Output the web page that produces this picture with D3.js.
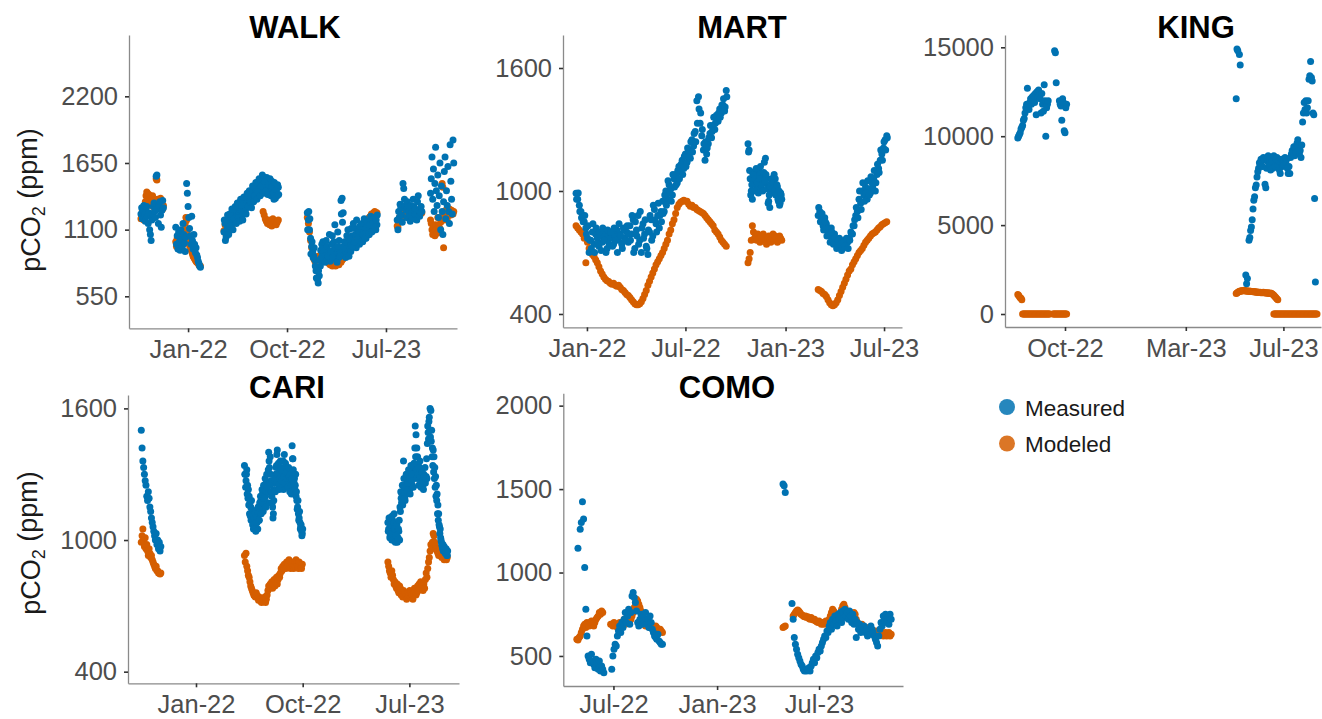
<!DOCTYPE html>
<html>
<head>
<meta charset="utf-8">
<script src="https://cdn.jsdelivr.net/npm/d3@7"></script>
<style>
  body { margin: 0; background: #fff; }
  svg { display: block; }
  text { font-family: "Liberation Sans", Arial, Helvetica, sans-serif; }
</style>
</head>
<body>
<svg id="chart" width="1322" height="719"></svg>
<script>
// ---- categories and legend ----
const sites = ["WALK", "MART", "KING", "CARI", "COMO"];
const seriesNames = ["Measured", "Modeled"];
const seriesColors = ["#0072B2", "#D55E00"];

// ---- axis tick labels ----
const walkYTicks = [550, 1100, 1650, 2200];
const martYTicks = [400, 1000, 1600];
const kingYTicks = [0, 5000, 10000, 15000];
const cariYTicks = [400, 1000, 1600];
const comoYTicks = [500, 1000, 1500, 2000];
const walkXTicks = ["2022-01-01", "2022-10-01", "2023-07-01"];
const martXTicks = ["2022-01-01", "2022-07-01", "2023-01-01", "2023-07-01"];
const kingXTicks = ["2022-10-01", "2023-03-01", "2023-07-01"];
const cariXTicks = ["2022-01-01", "2022-10-01", "2023-07-01"];
const comoXTicks = ["2022-07-01", "2023-01-01", "2023-07-01"];

// ---- pCO2 records (ppm) ----
// each run: [first date, days between samples, values]; null = no sample that day
const walkMeasured = [
  ["2021-08-24", 2, [1230,1280,1190,1260,1300,1220,1170,1250,1290,1210,1150,1240,1100,1060,1010,1180,1230,1290,1320,1250,1200,1540,1550,1270,1150,1300,1330,1220,1120,1260,1340,1280]],
  ["2021-11-28", 2, [1120,980,1050,940,1080,1000,930,1100,1020,960,1150,1060,990,920,1040,1480,1400,1290,1200,1110,1050,980,1210,1010,940,1060,980,910,950,890,870,840,820,800,790]],
  ["2022-04-10", 3, [1080,1150,1040,1110,1180,1130,1200,1100,1170,1240,1190,1260,1210,1280,1230,1300,1250,1220,1290,1340,1270,1320,1380,1300,1360,1410,1340,1390,1440,1370,1420,1470,1400,1450,1510,1430,1480,1530,1460,1410,1490,1440,1390,1470,1500,1420,1350,1440,1400,1380,1450]],
  ["2022-04-11", 3, [1180,1010,1160,1220,1060,1230,1130,1270,1100,1190,1290,1150,1320,1200,1170,1350,1300,1180,1370,1250,1230,1400,1290,1420,1320,1280,1460,1330,1380,1490,1350,1410,1520,1380,1460,1550,1400,1500,1420,1530,1390,1470,1520,1380,1460,1400,1490,1360,1430,1470,1390]],
  ["2022-11-26", 3, [1240,1180,1100,1030,960,920,880,850,760,700,660,720,800,870,900,860,880,920,850,900,870,840,890,1050,930,880,860,900,1080,870,920,1340,1360,1240,890,930,960,900,940,1000,920,1050,960,990,1110,950,1000,1040,980,1020,1070,1000,1050,1100,1030,1080,1130,1060,1100,1150,1090,1120,1170,1100,1140]],
  ["2022-11-27", 3, [1100,1250,1190,900,1000,870,950,800,700,690,760,850,930,980,1000,940,830,1010,960,880,1060,920,980,870,1000,1140,950,830,960,1010,880,1230,1160,960,1000,870,1050,1100,880,1020,1110,960,1150,1000,1060,1180,1020,1090,1130,1000,1150,1060,1190,1030,1120,1170,1060,1140,1210,1080,1160,1200,1120,1180,1220]],
  ["2023-08-01", 2, [1180,1100,1250,1200,1310,1280,1220,1160,1480,1440,1350,1300,1260,1200,1330,1280,1250,1210,1170,1300,1240,1190,1350,1290,1230,1270,1220,1180,1330,1380,1260,1210,1240,1290,1250]],
  ["2023-11-01", 2, [1400,1520,1700,1350,1600,1250,1480,1780,1420,1300,1550,1200,1380,1650,1100,1460,1250,1060,1330,1580,1700,1190,1420,1300,1620,1250,1150,1800,1500,1350,1230,1840,1650]]
];
const walkModeled = [
  ["2021-08-24", 2, [1190,1220,1260,1200,1180,1240,1330,1380,1410,1400,1360,1390,1340,1320,1300,1360,1380,1330,1290,1270,1320,1520,1510,1350,1300,1280,1330,1360,1310,1290,1270,1300]],
  ["2021-11-28", 2, [1000,960,1030,970,1010,950,990,1040,1020,1000,980,1060,1100,1150,1200,1180,1090,1050,1000,970,960,940,920,900,880,870,860,850,840,830,830,820,810,800,800]],
  ["2022-04-10", 3, [1090,1140,1060,1120,1170,1150,1190,1130,1180,1220,1200,1250,1230,1270,1240,1290,1260,1240,1290,1320,1290,1330,1360,1320,1350,1390,1360,1380,1420,1390,1410,1440,1420,1430,1460,1480,1250,1220,1190,1170,1150,1180,1140,1160,1130,1190,1150,1170,1140,1160,1180]],
  ["2022-11-26", 3, [1200,1150,1080,1010,950,900,860,840,850,870,880,860,850,870,860,850,860,880,840,830,820,810,820,800,810,830,800,820,830,810,840,830,850,860,880,900,920,900,930,960,940,980,1000,990,1020,1050,1040,1070,1090,1080,1110,1130,1120,1150,1170,1160,1190,1200,1210,1230,1220,1240,1250,1230,1240]],
  ["2023-08-01", 2, [1130,1120,1160,1200,1180,1230,1210,1190,1220,1240,1230,1260,1210,1230,1250,1200,1220,1240,1260,1230,1210,1250,1270,1230,1200,1240,1260,1230,1250,1220,1240,1260,1230,1250,1240]],
  ["2023-11-01", 2, [1180,1150,1100,1060,1120,1080,1050,1140,1100,1070,1200,1130,1090,1110,1160,1200,1480,1450,950,1180,1220,1260,1210,1190,1240,1230,1270,1250,1220,1260,1240,1230,1250]]
];

const martMeasured = [
  ["2021-12-12", 3, [989,960,930,900,880,850,820,770,700,760,800,740,790,770,730,780,750,790,760,720,780,770,790,740,780,810,760,790,740,820,770,800,750,830,790,860,720,810,880,760,700,840,790,730,690,800,860,780,910,840,880,820,900,950,900,1000,960,1030,1010,980,1060,1080,1040,1120,1090,1150,1110,1180,1140,1200,1160,1250,1220,1290,1440,1460,1330,1270,1200,1150,1180,1230,1280,1260,1320,1300,1370,1340,1400,1380,1420,1390,1490]],
  ["2021-12-13", 3, [960,990,900,870,850,880,790,830,760,720,840,700,820,740,800,710,820,760,700,810,740,800,730,820,760,700,840,780,720,810,760,830,790,760,880,700,850,780,740,900,820,770,860,720,810,880,760,930,860,800,940,880,850,890,980,930,1050,990,950,1080,1020,1030,1100,1060,1130,1080,1170,1120,1210,1170,1240,1190,1280,1240,1330,1400,1380,1300,1230,1240,1210,1260,1320,1290,1360,1330,1340,1380,1360,1420,1450,1410,1460]],
  ["2022-10-24", 2, [1230,1200,1060,1000,960,1040,1090,1070,1020,1050,1100,1080,1010,1040,1070,1140,1160,1060,1030,950,920,990,1050,1030,1080,1060,1000,1020,950,930,990,960]],
  ["2022-10-25", 2, [1190,1100,980,1030,1080,1000,1060,1110,1040,990,1060,1120,1030,1000,1090,1050,1080,1010,940,980,1020,1060,1010,1040,1000,980,1030,960,1000,940,980]],
  ["2023-03-02", 3, [880,900,860,830,870,840,800,780,820,760,790,750,730,770,740,720,760,730,750,770,800,790,830,880,900,960,940,1000,980,1020,960,1010,990,1040,1060,1000,1080,1110,1150,1180,1210,1250,1270]],
  ["2023-03-03", 3, [920,850,890,810,850,780,820,750,800,740,770,720,760,740,710,750,730,770,720,760,790,830,860,920,870,1000,910,1040,950,990,1050,980,1070,1020,1100,1040,1130,1090,1200,1150,1240,1200,1260]]
];
const martModeled = [
  ["2021-12-12", 3, [830,820,810,800,790,770,650,750,720,700,690,680,665,650,630,610,595,580,570,562,558,550,545,550,540,535,540,530,520,515,505,495,490,480,470,460,450,445,445,450,460,475,495,515,540,560,580,600,620,640,655,670,685,700,720,740,760,790,810,840,860,890,920,935,945,950,955,950,950,935,925,930,920,920,910,905,900,895,890,880,870,860,850,840,830,810,800,790,775,760,750,740,730]],
  ["2022-10-24", 2, [650,670,700,760,830,800,770,780,760,790,770,750,780,760,790,770,760,740,770,780,760,750,770,790,760,780,770,750,760,780,770,760]],
  ["2023-03-02", 3, [520,515,510,500,495,485,470,455,445,440,445,455,470,490,510,530,550,570,590,610,620,640,655,670,685,700,710,720,735,750,760,770,780,790,795,800,810,820,825,835,840,845,850]]
];

const kingMeasured = [
  ["2022-08-03", 1, [9900,10000,10100,10200,10400,10500,10600,10900,11000,11300,11600,11800,12700,11700,11500,11900,12100,11800,12200,12000,12300,11900,12400,11200,12500,12200,12600,12300,12100,11300,12400,11800,11400,12900,12000,10000,11600,11800,12000,null,null,null,null,null,null,null,14800,14700,13000,null,null,null,12000,11800,11700,10900,12100,11900,10300,10200,11600,11800]],
  ["2023-05-03", 1, [12100,14900,14800,null,14600,14000,null,null,null,null,null,null,2200,1700,2000,null,4150,4300,4700,4900,5300,5900,6400,6600,7100,7250,7700,8000,8200,8500,8400,8700,8600,8300,8800,8700,7300,7100,8200,8600,8900,8400,8700,8100,8800,8600,8200,8900,8500,8300,8700,8800,8400,8600,8100,7900,8500,8700,8300,8600,8400,8800,8500,8700,8200,7900,8300,7900,8800,9000,9200,9100,9400,8900,9300,9100,9600,9800,9400,9000,9200,8800,9500,10800,11300,11900,11500,12000,11300,11600,12000,13200,13400,14200,13300,13100,11300,11200,6500,1800]]
];
const kingModeled = [
  ["2022-08-03", 1, [1100,1050,970,920,880,800,0,0,0,0,0,0,0,0,0,0,0,0,0,0,0,0,0,0,0,0,0,0,0,0,0,0,0,0,0,0,0,0,0,0,0,null,null,null,0,0,0,0,0,0,0,0,0,0,0,0,0,0,0,0,0,0]],
  ["2023-05-03", 1, [1150,1180,1220,1250,1270,1290,1300,1310,1300,1320,1330,1310,1300,1290,1300,1280,1290,1270,1280,1260,1270,1250,1260,1240,1250,1230,1240,1220,1230,1210,1220,1200,1210,1190,1220,1200,1190,1180,1200,1170,1190,1160,1180,1150,1170,1130,1100,1060,1000,950,900,850,800]],
  ["2023-06-19", 1, [0,0,0,0,0,0,0,0,0,0,0,0,0,0,0,0,0,0,0,0,0,0,0,0,0,0,0,0,0,0,0,0,0,0,0,0,0,0,0,0,0,0,0,0,0,0,0,0,0,0,0,0,0,0,0]]
];

const cariMeasured = [
  ["2021-08-14", 2, [1500,1420,1360,1330,1300,1270,1250,1200,1180,1220,1190,1150,1130,1100,1080,1060,1040,1020,1000,1030,980,1000,960,990,950,970]],
  ["2022-05-05", 2, [1340,1300,1270,1320,1250,1230,1200,1170,1150,1180,1130,1110,1090,1070,1060,1100,1080,1050,1120,1090,1140,1180,1160,1210,1130,1180,1240,1200,1260,1220,1170,1400,1330,1380,1270,1200,1150,1120,1230,1260,1300,1340,1410,1280,1250,1320,1360,1300,1240,1280,1230,1390,1330,1290,1250,1310,1270,1240,1220,1260,1210,1430,1370,1300,1280,1250,1200,1180,1150,1120,1100,1080,1060,1040,1030]],
  ["2022-05-06", 2, [1300,1240,1300,1210,1190,1160,1120,1110,1090,1140,1070,1050,1100,1120,1040,1080,1130,1150,1090,1170,1200,1120,1230,1170,1250,1190,1280,1150,1300,1240,1320,1360,1250,1300,1220,1170,1100,1180,1280,1220,1330,1390,1300,1350,1230,1280,1330,1270,1310,1360,1290,1260,1350,1310,1280,1240,1330,1290,1300,1250,1280,1370,1320,1260,1230,1300,1220,1140,1180,1090,1130,1050,1070,1020,1050]],
  ["2023-05-07", 2, [1080,1050,1100,1020,1060,1000,1090,1040,1120,1010,1060,1030,990,1010,1040,1000,1130,1190,1210,1160,1360,1230,1180,1250,1210,1270,1300,1260,1230,1290,1310,1250,1330,1280,1300,1520,1480,1420,1380,1340,1300,1360,1320,1270,1290,1250,1300,1270,1260,1290,1280,1520,1460,1560,1600,1590,1500,1420,1410,1380,1330,1290,1250,1210,1160,1120,1060,1050,1000,980,960,950,970,960,940,950,930]],
  ["2023-05-08", 2, [1040,1100,1010,1070,1030,1110,1000,1080,1050,990,1020,1070,1000,1050,1090,1150,1220,1170,1250,1200,1280,1190,1240,1300,1220,1260,1320,1280,1210,1340,1270,1300,1240,1350,1420,1380,1320,1280,1300,1250,1330,1290,1240,1310,1270,1230,1290,1330,1280,1370,1440,1490,1540,1500,1470,1450,1380,1340,1310,1280,1240,1200,1180,1120,1090,1070,1030,1010,990,970,980,950,960,940,960,930,950]]
];
const cariModeled = [
  ["2021-08-14", 2, [990,1020,1050,1000,970,1010,960,980,950,930,960,940,920,930,910,900,890,880,870,880,860,860,850,850,845,850]],
  ["2022-05-05", 2, [930,900,940,880,860,840,830,810,790,780,770,760,750,745,740,760,750,735,725,740,730,720,715,730,725,720,740,715,730,750,770,790,780,800,790,810,780,800,820,790,810,830,800,820,840,830,850,870,860,880,870,890,880,870,900,880,890,910,880,870,900,890,880,870,900,880,910,890,880,870,900,890,880,870,890]],
  ["2023-05-07", 2, [900,880,860,850,830,860,840,820,800,810,790,780,800,770,760,790,780,750,760,740,770,750,760,740,730,760,740,750,770,760,740,750,730,760,780,770,750,760,790,770,800,780,810,800,790,770,800,780,820,850,830,870,900,920,950,980,960,990,1030,1020,990,970,960,950,940,930,960,940,930,920,940,930,910,930,920,910,920]]
];

const comoMeasured = [
  ["2022-04-27", 2, [null,1145,null,1260,1300,1424,1320,1030,780,620,500,480,460,510,470,450,430,480,460,420,470,410,440,420,400,null,null,null,null,null,null,420,500,540,570,560,620,650,680,640,700,670,720,760,700,740,780,690,760,860,880,850,820,770,700,680,720,750,690,740,700,760,690,720,670,740,700,660,640,620,610,600,630,590,580,570,570]],
  ["2023-04-28", 2, [1530,1520,1480,null,null,null,null,null,815,720,610,570,540,510,490,470,450,440,420,410,420,410,420,430,410,440,460,480,460,500,490,520,540,530,560,580,600,620,610,650,640,680,700,660,720,690,740,710,680,750,720,760,700,770,730,780,740,760,720,770,740,700,750,690,720,610,700,660,690,640,670,650,680,640,660,620,650,630,680,660,640,620,600,580,560,620,660,700,680,740,710,750,700,730,690,750,720]]
];
const comoModeled = [
  ["2022-04-27", 2, [600,595,610,620,640,660,680,690,670,700,690,680,700,710,690,680,700,720,730,740,760,750,770,760,null,null,null,null,null,null,690,690,680,700,690,680,670,690,700,680,690,700,720,690,700,710,700,710,720,740,760,790,820,840,830,810,790,770,750,730,690,680,700,690,680,670,690,680,670,660,680,670,660,650,660,650,640]],
  ["2023-04-28", 2, [670,675,680,null,null,null,null,null,null,740,750,760,770,775,770,760,750,745,740,735,740,730,735,725,720,730,720,715,720,710,705,700,710,700,690,700,690,700,710,690,700,720,740,760,780,770,750,740,730,720,740,760,780,800,810,790,770,760,740,730,720,710,740,760,750,720,700,690,680,670,690,680,660,650,670,660,650,640,660,650,640,630,650,640,630,640,650,630,640,620,630,640,620,630,640,620,630]]
];

// ---- panel layout (pixel boxes and axis limits) ----
const panels = [
  { site: sites[0], measured: walkMeasured, modeled: walkModeled, yTicks: walkYTicks, xTicks: walkXTicks,
    xLim: ["2021-07-22", "2024-01-13"], yLim: [286, 2706],
    box: { l: 129, r: 457, t: 35, b: 328.3 }, xPad: 8, title: [295, 38], yTitle: 200 },
  { site: sites[1], measured: martMeasured, modeled: martModeled, yTicks: martYTicks, xTicks: martXTicks,
    xLim: ["2021-11-18", "2023-08-03"], yLim: [335, 1761],
    box: { l: 563, r: 902, t: 35, b: 327.3 }, xPad: 8, title: [742, 38] },
  { site: sites[2], measured: kingMeasured, modeled: kingModeled, yTicks: kingYTicks, xTicks: kingXTicks,
    xLim: ["2022-07-18", "2023-08-17"], yLim: [-731, 15692],
    box: { l: 1005, r: 1321, t: 35, b: 327 }, xPad: 8, title: [1196, 38] },
  { site: sites[3], measured: cariMeasured, modeled: cariModeled, yTicks: cariYTicks, xTicks: cariXTicks,
    xLim: ["2021-07-11", "2023-11-05"], yLim: [347, 1661],
    box: { l: 128, r: 459, t: 395, b: 683.3 }, xPad: 7.5, title: [287, 398], yTitle: 543 },
  { site: sites[4], measured: comoMeasured, modeled: comoModeled, yTicks: comoYTicks, xTicks: comoXTicks,
    xLim: ["2022-04-03", "2023-11-27"], yLim: [320, 2074],
    box: { l: 563.3, r: 903, t: 393.3, b: 686 }, xPad: 5, title: [727, 398] }
];

const parse = d3.utcParse("%Y-%m-%d");
const fmt = d3.utcFormat("%b-%y");

function expand(runs) {
  const out = [];
  for (const [start, step, vals] of runs) {
    const t0 = parse(start);
    vals.forEach((v, i) => {
      if (v !== null) out.push({ date: d3.utcDay.offset(t0, i * step), value: v });
    });
  }
  return out;
}

const svg = d3.select("#chart");

panels.forEach(p => {
  const x = d3.scaleUtc().domain(p.xLim.map(parse)).range([p.box.l, p.box.r]);
  const y = d3.scaleLinear().domain(p.yLim).range([p.box.b, p.box.t]);
  const g = svg.append("g").attr("class", "panel");

  // points: modeled underneath, measured on top
  [[p.modeled, 1], [p.measured, 0]].forEach(([runs, k]) => {
    g.append("g")
      .selectAll("circle")
      .data(expand(runs))
      .join("circle")
      .attr("cx", d => x(d.date))
      .attr("cy", d => y(d.value))
      .attr("r", 3.5)
      .attr("fill", seriesColors[k]);
  });

  const yAxis = g.append("g")
    .attr("transform", `translate(${p.box.l},0)`)
    .call(d3.axisLeft(y).tickValues(p.yTicks).tickFormat(d3.format("d"))
      .tickSize(4).tickSizeOuter(0).tickPadding(7));
  const xAxis = g.append("g")
    .attr("transform", `translate(0,${p.box.b})`)
    .call(d3.axisBottom(x).tickValues(p.xTicks.map(parse)).tickFormat(fmt)
      .tickSize(4).tickSizeOuter(0).tickPadding(p.xPad));

  [yAxis, xAxis].forEach(a => {
    a.select(".domain").attr("stroke", "#8a8a8a").attr("stroke-width", 1.3);
    a.selectAll(".tick line").attr("stroke", "#333").attr("stroke-width", 1.6);
    a.selectAll(".tick text")
      .attr("fill", "#4d4d4d")
      .style("font-size", "25.5px")
      .style("font-family", '"Liberation Sans", Arial, Helvetica, sans-serif');
  });

  g.append("text")
    .attr("x", p.title[0]).attr("y", p.title[1])
    .attr("text-anchor", "middle")
    .style("font-size", "31px").style("font-weight", "bold")
    .attr("fill", "#000")
    .text(p.site);

  if (p.yTitle !== undefined) {
    const t = g.append("text")
      .attr("transform", `translate(40,${p.yTitle}) rotate(-90)`)
      .attr("text-anchor", "middle")
      .style("font-size", "27px")
      .attr("fill", "#1a1a1a");
    t.append("tspan").text("pCO");
    t.append("tspan").attr("font-size", "18px").attr("dy", "0.28em").text("2");
    t.append("tspan").attr("dy", "-0.28em").text(" (ppm)");
  }
});

// legend
const legend = svg.append("g").attr("class", "legend");
seriesNames.forEach((name, i) => {
  const cy = 407 + i * 36.5;
  legend.append("circle").attr("cx", 1007).attr("cy", cy).attr("r", 8).attr("fill", seriesColors[i]).attr("opacity", 0.85);
  legend.append("text").attr("x", 1025).attr("y", cy + 8.5)
    .style("font-size", "22.5px").attr("fill", "#1a1a1a").text(name);
});
</script>
</body>
</html>
